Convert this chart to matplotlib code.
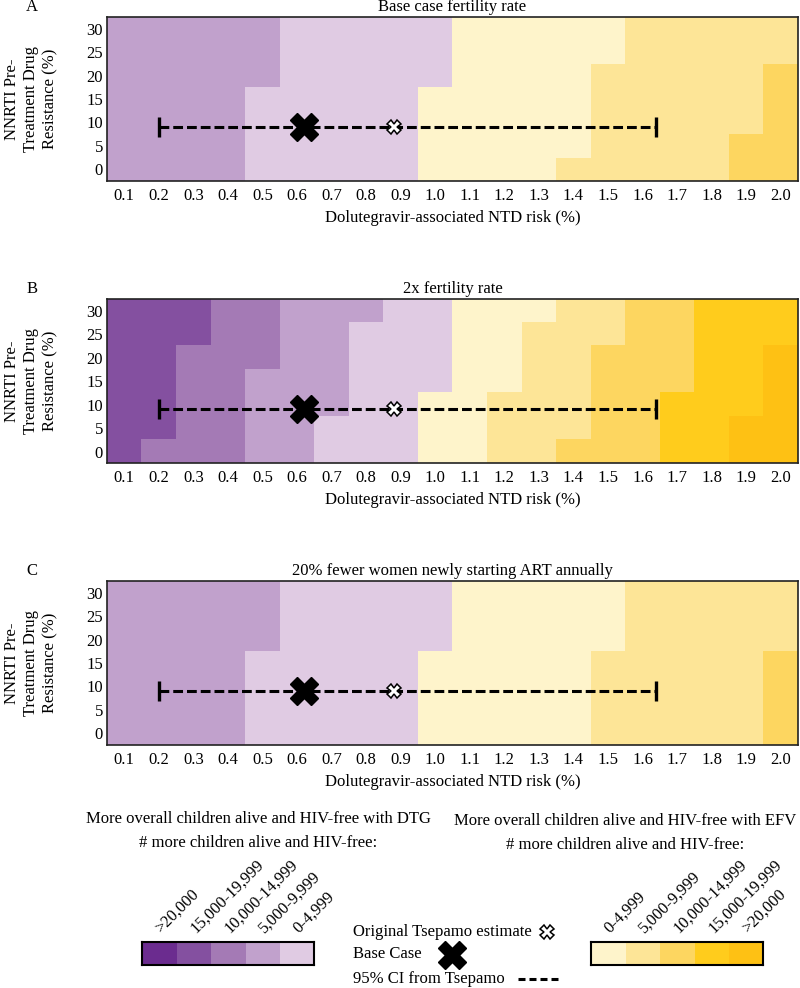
import numpy as np
import matplotlib
matplotlib.use('Agg')
from matplotlib import pyplot as plt
from matplotlib.colors import ListedColormap, BoundaryNorm

plt.rcParams['font.family'] = ['Liberation Serif', 'DejaVu Serif']
plt.rcParams['font.size'] = 12

# x: dolutegravir-associated NTD risk (%), y: NNRTI pre-treatment drug resistance (%)
risk = [0.1, 0.2, 0.3, 0.4, 0.5, 0.6, 0.7, 0.8, 0.9, 1.0,
        1.1, 1.2, 1.3, 1.4, 1.5, 1.6, 1.7, 1.8, 1.9, 2.0]
resistance = [0, 5, 10, 15, 20, 25, 30]

# category per cell: 0..4 = DTG better (>20,000 .. 0-4,999), 5..9 = EFV better (0-4,999 .. >20,000)
# rows listed from 0% resistance (bottom) to 30% (top)
grid_a = [
    [3, 3, 3, 3, 4, 4, 4, 4, 4, 5, 5, 5, 5, 6, 6, 6, 6, 6, 7, 7],
    [3, 3, 3, 3, 4, 4, 4, 4, 4, 5, 5, 5, 5, 5, 6, 6, 6, 6, 7, 7],
    [3, 3, 3, 3, 4, 4, 4, 4, 4, 5, 5, 5, 5, 5, 6, 6, 6, 6, 6, 7],
    [3, 3, 3, 3, 4, 4, 4, 4, 4, 5, 5, 5, 5, 5, 6, 6, 6, 6, 6, 7],
    [3, 3, 3, 3, 3, 4, 4, 4, 4, 4, 5, 5, 5, 5, 6, 6, 6, 6, 6, 7],
    [3, 3, 3, 3, 3, 4, 4, 4, 4, 4, 5, 5, 5, 5, 5, 6, 6, 6, 6, 6],
    [3, 3, 3, 3, 3, 4, 4, 4, 4, 4, 5, 5, 5, 5, 5, 6, 6, 6, 6, 6],
]
grid_b = [
    [1, 2, 2, 2, 3, 3, 4, 4, 4, 5, 5, 6, 6, 7, 7, 7, 8, 8, 9, 9],
    [1, 1, 2, 2, 3, 3, 4, 4, 4, 5, 5, 6, 6, 6, 7, 7, 8, 8, 9, 9],
    [1, 1, 2, 2, 3, 3, 3, 4, 4, 5, 5, 6, 6, 6, 7, 7, 8, 8, 8, 9],
    [1, 1, 2, 2, 3, 3, 3, 4, 4, 4, 5, 5, 6, 6, 7, 7, 7, 8, 8, 9],
    [1, 1, 2, 2, 2, 3, 3, 4, 4, 4, 5, 5, 6, 6, 7, 7, 7, 8, 8, 9],
    [1, 1, 1, 2, 2, 3, 3, 4, 4, 4, 5, 5, 6, 6, 6, 7, 7, 8, 8, 8],
    [1, 1, 1, 2, 2, 3, 3, 3, 4, 4, 5, 5, 5, 6, 6, 7, 7, 8, 8, 8],
]
grid_c = [
    [3, 3, 3, 3, 4, 4, 4, 4, 4, 5, 5, 5, 5, 5, 6, 6, 6, 6, 6, 7],
    [3, 3, 3, 3, 4, 4, 4, 4, 4, 5, 5, 5, 5, 5, 6, 6, 6, 6, 6, 7],
    [3, 3, 3, 3, 4, 4, 4, 4, 4, 5, 5, 5, 5, 5, 6, 6, 6, 6, 6, 7],
    [3, 3, 3, 3, 4, 4, 4, 4, 4, 5, 5, 5, 5, 5, 6, 6, 6, 6, 6, 7],
    [3, 3, 3, 3, 3, 4, 4, 4, 4, 4, 5, 5, 5, 5, 5, 6, 6, 6, 6, 6],
    [3, 3, 3, 3, 3, 4, 4, 4, 4, 4, 5, 5, 5, 5, 5, 6, 6, 6, 6, 6],
    [3, 3, 3, 3, 3, 4, 4, 4, 4, 4, 5, 5, 5, 5, 5, 6, 6, 6, 6, 6],
]
grids = [grid_a, grid_b, grid_c]
titles = ['Base case fertility rate', '2x fertility rate',
          '20% fewer women newly starting ART annually']
letters = ['A', 'B', 'C']

colors = ['#6b2c8f', '#8450a0', '#a47ab5', '#c1a1cc', '#e0cbe3',
          '#fef4cb', '#fde597', '#fdd660', '#ffcc1c', '#fec114']
dtg_labels = ['>20,000', '15,000-19,999', '10,000-14,999', '5,000-9,999', '0-4,999']
efv_labels = ['0-4,999', '5,000-9,999', '10,000-14,999', '15,000-19,999', '>20,000']

base_case = (0.62, 9.0)
tsepamo = (0.88, 9.0)
ci = (0.20, 1.64)

cmap = ListedColormap(colors)
norm = BoundaryNorm(np.arange(-0.5, 10.5, 1), cmap.N)

W, H = 800, 988
fig = plt.figure(figsize=(W / 100, H / 100), dpi=100)
PX = 0.72  # points per pixel


def fx(px):
    return px / W


def fy(py):
    return 1 - py / H


tops = [17, 299.3, 581]
ax_h = 164
for grid, title, letter, top in zip(grids, titles, letters, tops):
    ax = fig.add_axes([fx(107), fy(top + ax_h), fx(798) - fx(107), ax_h / H])
    ax.imshow(np.array(grid), origin='lower', aspect='auto', cmap=cmap, norm=norm,
              interpolation='nearest',
              extent=[risk[0] - 0.05, risk[-1] + 0.05,
                      resistance[0] - 2.5, resistance[-1] + 2.5])
    ax.set_xticks(risk)
    ax.set_xticklabels(['%.1f' % r for r in risk])
    ax.set_yticks(resistance)
    ax.tick_params(length=0, labelsize=12)
    ax.tick_params(axis='x', pad=5)
    ax.tick_params(axis='y', pad=3)
    for s in ax.spines.values():
        s.set_linewidth(1.2)
        s.set_color('#222222')

    eb = ax.errorbar(base_case[0], base_case[1],
                     xerr=[[base_case[0] - ci[0]], [ci[1] - base_case[0]]],
                     fmt='none', ecolor='black', elinewidth=2.2, capsize=7.5, capthick=2.4)
    eb[2][0].set_linestyle((0, (3.2, 1.3)))
    ax.plot(tsepamo[0], tsepamo[1], marker='X', ms=10, mfc='white', mec='black', mew=1.1)
    ax.plot(base_case[0], base_case[1], marker='X', ms=20, mfc='black', mec='black')

    ax.annotate(title, xy=(0.5, 1), xycoords='axes fraction', xytext=(0, 10 * PX),
                textcoords='offset points', ha='center', va='center', fontsize=12)
    ax.annotate('Dolutegravir-associated NTD risk (%)', xy=(0.5, 0), xycoords='axes fraction',
                xytext=(0, -37 * PX), textcoords='offset points', ha='center', va='center',
                fontsize=12)
    ax.annotate('NNRTI Pre-\nTreatment Drug\nResistance (%)', xy=(0, 0.5),
                xycoords='axes fraction', xytext=(-76 * PX, 0), textcoords='offset points',
                ha='center', va='center', rotation=90, multialignment='center',
                linespacing=1.25, fontsize=12)
    fig.text(fx(32), fy(top - 10), letter, ha='center', va='center', fontsize=12)

# colour keys
for left, idx, labels, head, cx, y1 in [(141.7, [0, 1, 2, 3, 4], dtg_labels,
                                         'More overall children alive and HIV-free with DTG',
                                         258, 819),
                                        (590.7, [5, 6, 7, 8, 9], efv_labels,
                                         'More overall children alive and HIV-free with EFV',
                                         625, 821)]:
    kax = fig.add_axes([fx(left), fy(965), 172.5 / W, 23.3 / H])
    kax.imshow(np.array([idx]), cmap=cmap, norm=norm, aspect='auto')
    kax.set_xticks([])
    kax.set_yticks([])
    for s in kax.spines.values():
        s.set_linewidth(1.5)
        s.set_color('black')
    for i, lab in enumerate(labels):
        kax.annotate(lab, xy=(i, -0.5), xycoords='data', xytext=(2 * PX, 8 * PX),
                     textcoords='offset points', rotation=45, rotation_mode='anchor',
                     ha='left', va='baseline', fontsize=12)
    fig.text(fx(cx), fy(y1), head, ha='center', va='center', fontsize=12)
    fig.text(fx(cx), fy(y1 + 24), '# more children alive and HIV-free:',
             ha='center', va='center', fontsize=12)

# marker key
lax = fig.add_axes([0, 0, 1, 1])
lax.set_xlim(0, W)
lax.set_ylim(H, 0)
lax.axis('off')
lax.text(352.7, 931.7, 'Original Tsepamo estimate', ha='left', va='center', fontsize=12)
lax.text(352.7, 954, 'Base Case', ha='left', va='center', fontsize=12)
lax.text(352.7, 979, '95% CI from Tsepamo', ha='left', va='center', fontsize=12)
lax.plot(546.7, 931.7, marker='X', ms=10, mfc='white', mec='black', mew=1.1)
lax.plot(451.7, 955, marker='X', ms=20, mfc='black', mec='black')
lax.plot([518, 558], [979, 979], color='black', lw=2.2, dashes=(2.29, 1.31))

fig.savefig('out.png', dpi=100)
